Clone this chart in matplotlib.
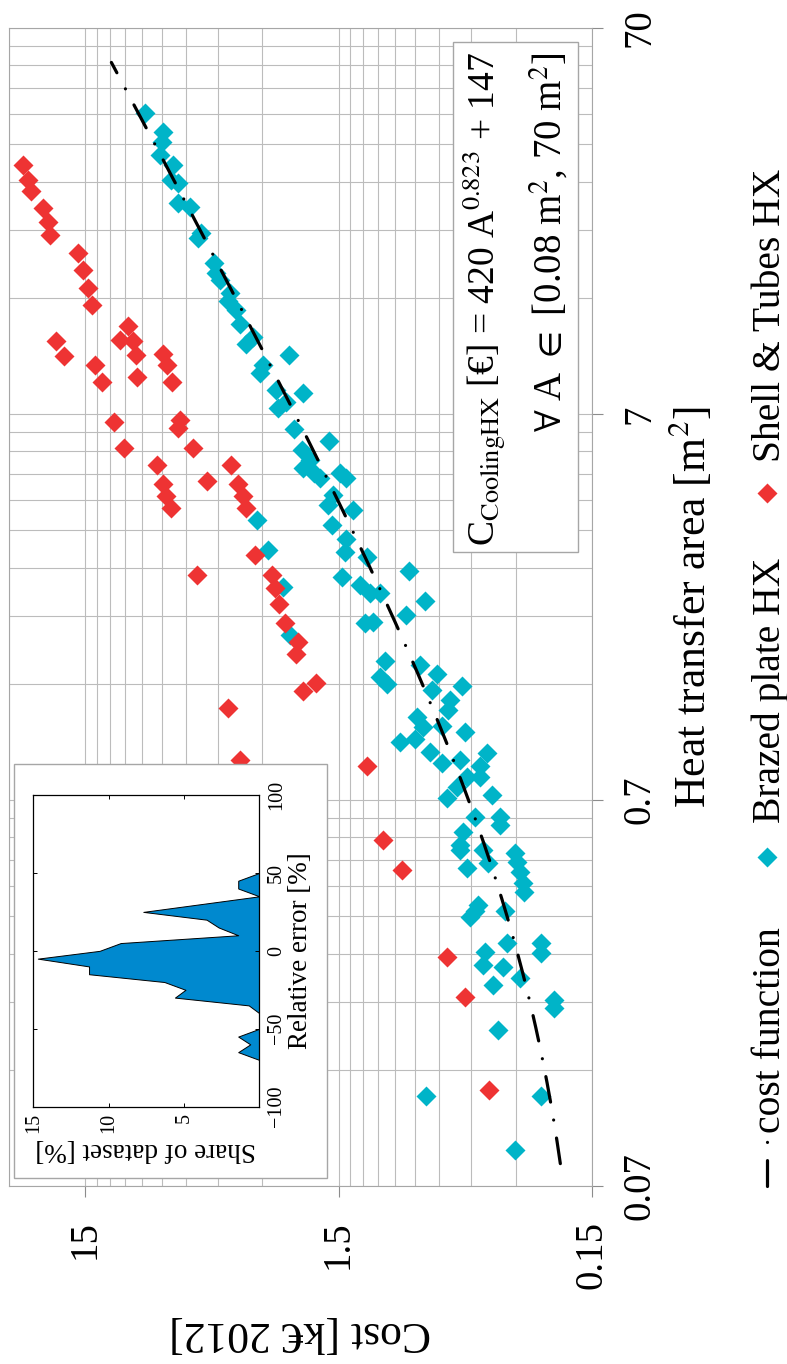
import numpy as np
import matplotlib
matplotlib.use("Agg")
import matplotlib.pyplot as plt
from matplotlib.lines import Line2D
from matplotlib.patches import Rectangle
from matplotlib.ticker import FixedLocator, FixedFormatter, NullFormatter

plt.rcParams['font.family'] = ['Liberation Serif', 'DejaVu Serif']
plt.rcParams['mathtext.fontset'] = 'stix'

# ---------------------------------------------------------------- data
# Brazed plate heat exchangers: heat transfer area [m2] and cost [kEUR 2012]
brazed_area = [42.2, 37.7, 35.5, 32.8, 30.9, 27.7, 28.3, 24.6, 24.1, 20.6,
               20.0, 17.2, 16.2, 15.6, 14.4, 13.7, 13.0, 12.0, 10.6, 11.1,
               9.38, 8.93, 9.95, 8.08, 7.92, 7.53, 7.24, 6.39, 5.96, 5.65,
               5.32, 5.06, 4.91, 4.77, 4.93, 4.77, 4.32, 4.07, 3.95, 3.61,
               3.33, 3.08, 2.99, 2.65, 2.52, 2.40, 2.40, 2.01, 2.03, 1.60,
               1.46, 1.40, 3.72, 3.11, 2.50, 1.87, 2.75, 2.30, 2.11, 1.57,
               1.48, 1.38, 1.35, 1.27, 1.20, 1.15, 1.08, 0.992, 1.01, 1.09,
               1.05, 0.933, 0.871, 0.889, 0.925, 0.855, 0.804, 0.804, 0.758, 0.707,
               0.721, 0.634, 0.634, 0.603, 0.579, 0.535, 0.519, 0.519, 0.480, 0.466,
               0.509, 0.484, 0.456, 0.426, 0.405, 0.374, 0.360, 0.349, 0.360, 0.298,
               0.283, 0.262, 0.259, 0.232, 0.242, 0.298, 0.281, 0.212, 0.202, 0.178,
               0.120, 0.120, 0.0868]
brazed_cost = [8.71, 7.42, 7.49, 7.65, 6.78, 6.48, 6.88, 6.48, 5.82, 5.23,
               5.40, 4.64, 4.56, 4.43, 4.04, 4.10, 3.80, 3.69, 3.47, 3.27,
               2.98, 3.07, 2.36, 2.64, 2.07, 2.41, 2.61, 2.26, 1.63, 2.10,
               1.95, 2.07, 1.87, 1.78, 1.48, 1.40, 1.58, 1.65, 1.32, 1.60,
               1.40, 1.42, 1.16, 1.46, 1.24, 1.13, 1.03, 1.18, 1.10, 0.985,
               1.03, 0.970, 3.15, 2.84, 2.49, 2.34, 0.790, 0.684, 0.809, 0.717,
               0.615, 0.490, 0.644, 0.545, 0.554, 0.738, 0.695, 0.859, 0.750, 0.588,
               0.476, 0.654, 0.588, 0.498, 0.390, 0.415, 0.468, 0.415, 0.513, 0.562,
               0.373, 0.434, 0.344, 0.346, 0.483, 0.498, 0.498, 0.403, 0.385, 0.466,
               0.302, 0.297, 0.288, 0.280, 0.278, 0.421, 0.434, 0.454, 0.330, 0.325,
               0.396, 0.403, 0.336, 0.367, 0.288, 0.237, 0.237, 0.212, 0.212, 0.351,
               0.678, 0.237, 0.302]

# Shell & tubes heat exchangers
shell_area = [30.9, 28.3, 26.4, 23.9, 22.0, 20.4, 18.3, 16.5, 14.8, 13.4,
              10.8, 9.89, 11.8, 10.9, 10.8, 9.95, 9.38, 8.49, 8.75, 10.0,
              9.38, 8.49, 6.68, 6.75, 6.43, 5.70, 5.70, 5.17, 5.17, 4.61,
              4.68, 4.61, 4.28, 4.28, 3.99, 3.99, 3.02, 2.68, 2.68, 2.48,
              2.25, 2.01, 1.80, 1.67, 1.41, 1.34, 1.21, 0.889, 0.855, 0.551,
              0.461, 0.275, 0.216, 0.124]
shell_cost = [26.4, 25.4, 24.6, 22.1, 21.1, 20.8, 16.1, 15.4, 14.7, 14.1,
              19.7, 18.2, 10.2, 11.0, 9.75, 9.46, 13.8, 12.9, 9.37, 7.38,
              7.13, 6.81, 11.6, 6.37, 6.48, 10.6, 5.65, 7.84, 3.98, 7.42,
              4.97, 3.75, 7.20, 3.58, 6.88, 3.47, 3.22, 5.45, 2.74, 2.68,
              2.58, 2.45, 2.18, 2.22, 1.85, 2.07, 4.09, 3.67, 1.16, 1.00,
              0.846, 0.562, 0.476, 0.381]

# Distribution of the relative error of the cost function
rel_error = [-70, -65, -60, -55, -50, -40, -35, -30, -25, -20, -15, -10,
             -5, 0, 5, 10, 15, 20, 25, 35, 40, 45, 50]
share = [0, 1.4, 0.6, 1.4, 0, 0, 0.7, 5.6, 4.9, 6.3, 11.3, 11.3,
         14.7, 10.6, 9.2, 1.4, 2.7, 3.5, 7.7, 0, 1.4, 1.4, 0]

# Cost function C [EUR] = a * A^b + c
coef_a, coef_b, coef_c = 420.0, 0.823, 147.0
fit_area_range = (0.08, 57.0)

cost_ticks = [0.15, 1.5, 15]
cost_ticklabels = ['0.15', '1.5', '15']
area_ticks = [0.07, 0.7, 7, 70]
area_ticklabels = ['0.07', '0.7', '7', '70']
share_ticks = [5, 10, 15]
share_ticklabels = ['5', '10', '15']
err_ticks = [-100, -50, 0, 50, 100]
err_ticklabels = ['\u2212100', '\u221250', '0', '50', '100']

# ---------------------------------------------------------------- style
cyan = '#00b4c8'
red = '#ee3333'
blue_fill = '#0089cf'
grid_gray = '#bcbcbc'
spine_gray = '#a6a6a6'
tick_gray = '#8c8c8c'
line_w = 2.3
dashdot = (0, (8.1, 5.7, 0.01, 5.7))

W, H = 787, 1364
fig = plt.figure(figsize=(W / 100, H / 100), dpi=100)


def fx(px):
    return px / W


def fy(py):
    return 1 - py / H


# ---------------------------------------------------------------- main axes
ax = fig.add_axes([fx(9.3), fy(1186), fx(591.7) - fx(9.3), fy(28) - fy(1186)])
ax.set_xscale('log')
ax.set_yscale('log')
ax.set_xlim(30, 0.15)
ax.set_ylim(0.07, 70)

cost_minor = [k * b for b in cost_ticks for k in range(2, 10) if k * b <= 30.0001]
area_minor = [k * b for b in area_ticks[:-1] for k in range(2, 10)]
ax.xaxis.set_major_locator(FixedLocator(cost_ticks))
ax.xaxis.set_major_formatter(FixedFormatter(cost_ticklabels))
ax.xaxis.set_minor_locator(FixedLocator(cost_minor))
ax.xaxis.set_minor_formatter(NullFormatter())
ax.yaxis.set_major_locator(FixedLocator(area_ticks))
ax.yaxis.set_major_formatter(FixedFormatter(area_ticklabels))
ax.yaxis.set_minor_locator(FixedLocator(area_minor))
ax.yaxis.set_minor_formatter(NullFormatter())
ax.yaxis.tick_right()

ax.grid(True, which='both', color=grid_gray, lw=0.8)
ax.set_axisbelow(True)
ax.tick_params(which='minor', length=0)
ax.tick_params(axis='x', which='major', direction='out', length=7.9, width=0.8,
               color=tick_gray, pad=17, labelsize=28, labelrotation=90)
ax.tick_params(axis='y', which='major', direction='out', length=7.9, width=0.8,
               color=tick_gray, pad=13.5, labelsize=28, labelrotation=90)
for lbl in ax.get_yticklabels():
    lbl.set_va('center')
for sp in ax.spines.values():
    sp.set_color(spine_gray)
    sp.set_linewidth(0.8)

fit_area = np.geomspace(*fit_area_range, 300)
fit_cost = (coef_a * fit_area ** coef_b + coef_c) / 1000.0
ax.plot(fit_cost, fit_area, color='black', lw=line_w, linestyle=dashdot,
        dash_capstyle='round', zorder=4)
ax.plot(brazed_cost, brazed_area, linestyle='none', marker='D', ms=9.8,
        mfc=cyan, mec='none', zorder=3)
ax.plot(shell_cost, shell_area, linestyle='none', marker='D', ms=9.8,
        mfc=red, mec='none', zorder=3.5)

# axis titles
fig.text(fx(705), fy(607.5), 'Heat transfer area [m$^2$]', rotation=90,
         rotation_mode='anchor', ha='center', va='baseline', fontsize=31.5)
fig.text(fx(300.5), fy(1322), 'Cost [k\u20ac 2012]', rotation=180,
         rotation_mode='anchor', ha='center', va='baseline', fontsize=31.5)

# cost function annotation
fig.add_artist(Rectangle((fx(453.3), fy(552.3)), fx(578.3) - fx(453.3),
                         fy(41.7) - fy(552.3), transform=fig.transFigure,
                         facecolor='white', edgecolor=spine_gray, lw=1.0, zorder=1))
fig.text(fx(496), fy(52), 'C$_{\\mathrm{CoolingHX}}$ [\u20ac] = 420 A$^{0.823}$ + 147',
         rotation=90, rotation_mode='anchor', ha='right', va='baseline',
         fontsize=27, zorder=5)
fig.text(fx(562), fy(52), '$\\forall$ A $\\in$ [0.08 m$^2$, 70 m$^2$]',
         rotation=90, rotation_mode='anchor', ha='right', va='baseline',
         fontsize=28, zorder=5)

# legend
fig.add_artist(Line2D([fx(767), fx(767)], [fy(1186), fy(1138)],
                      transform=fig.transFigure, color='black', lw=line_w,
                      linestyle=dashdot, dash_capstyle='round'))
fig.add_artist(Line2D([fx(767)], [fy(857)], transform=fig.transFigure,
                      linestyle='none', marker='D', ms=10, mfc=cyan, mec='none'))
fig.add_artist(Line2D([fx(767)], [fy(493)], transform=fig.transFigure,
                      linestyle='none', marker='D', ms=10, mfc=red, mec='none'))
for ystart, label in [(1133, 'cost function'), (823, 'Brazed plate HX'),
                      (462, 'Shell & Tubes HX')]:
    fig.text(fx(780), fy(ystart), label, rotation=90, rotation_mode='anchor',
             ha='left', va='baseline', fontsize=28.5)

# ---------------------------------------------------------------- inset
fig.add_artist(Rectangle((fx(14), fy(1178)), fx(327) - fx(14), fy(764) - fy(1178),
                         transform=fig.transFigure, facecolor='white',
                         edgecolor=spine_gray, lw=1.0, zorder=2))
ax2 = fig.add_axes([fx(33.3), fy(1106.7), fx(259.3) - fx(33.3), fy(795) - fy(1106.7)],
                   zorder=3)
ax2.fill_betweenx(rel_error, share, 0, facecolor=blue_fill, edgecolor='black', lw=0.7)
ax2.set_xlim(15, 0)
ax2.set_ylim(-100, 100)
ax2.xaxis.set_major_locator(FixedLocator(share_ticks))
ax2.xaxis.set_major_formatter(FixedFormatter(share_ticklabels))
ax2.yaxis.set_major_locator(FixedLocator(err_ticks))
ax2.yaxis.set_major_formatter(FixedFormatter(err_ticklabels))
ax2.yaxis.tick_right()
ax2.tick_params(which='major', direction='in', length=3, width=0.7,
                top=True, bottom=True, left=True, right=True,
                labelleft=False, labelright=True, labeltop=False, labelbottom=True,
                labelsize=14.5, labelrotation=90)
ax2.tick_params(axis='x', pad=4.5)
ax2.tick_params(axis='y', pad=5.5)
for lbl in ax2.get_yticklabels():
    lbl.set_va('center')
for sp in ax2.spines.values():
    sp.set_linewidth(0.9)
fig.text(fx(307), fy(951), 'Relative error [%]', rotation=90, rotation_mode='anchor',
         ha='center', va='baseline', fontsize=19.5, zorder=5)
fig.text(fx(146), fy(1143), 'Share of dataset [%]', rotation=180,
         rotation_mode='anchor', ha='center', va='baseline', fontsize=19.5, zorder=5)

fig.savefig('out.png', dpi=100)
